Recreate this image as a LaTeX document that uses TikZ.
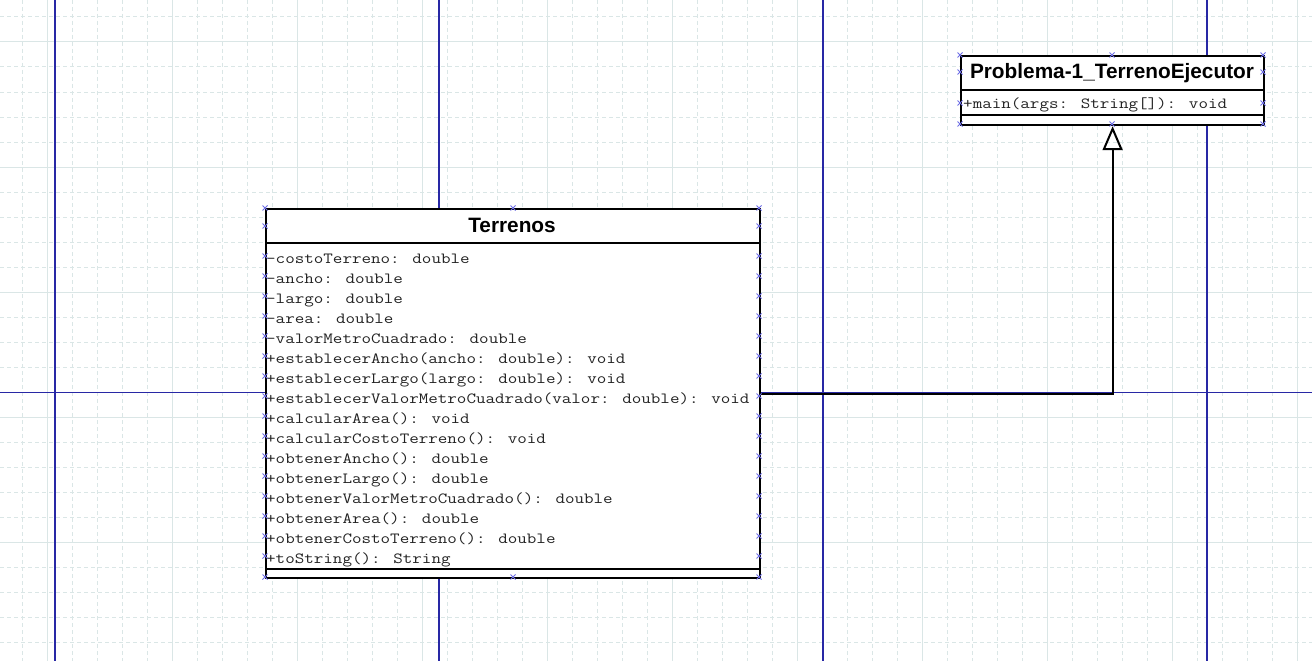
\documentclass[tikz,border=0pt]{standalone}
\usepackage{fontspec}
\setmainfont{Liberation Sans}
\newfontfamily\umlmono{Latin Modern Mono}[FakeStretch=1.195]
\usetikzlibrary{arrows.meta,positioning}
\definecolor{gridcol}{RGB}{218,230,230}
\definecolor{pagecol}{RGB}{40,40,165}
\definecolor{handlecol}{RGB}{110,110,230}
\definecolor{textcol}{RGB}{35,35,35}

\begin{document}
\begin{tikzpicture}[x=1pt,y=-1pt,
    classbox/.style={draw=black,fill=white,line width=2.2pt,inner sep=0pt,anchor=north west},
    classname/.style={font=\fontsize{20.8}{24}\selectfont\bfseries,inner sep=0pt,anchor=base},
    member/.style={font=\umlmono\fontsize{15.5}{20}\selectfont,text=textcol,inner sep=0pt,anchor=base west},
    classline/.style={line width=2.2pt},
    handle/.style={handlecol,line width=0.8pt},
    realize/.style={line width=2.2pt,-{Triangle[open,length=24pt,width=20pt,line width=2pt]}}]
  \useasboundingbox[fill=white] (0,0) rectangle (1312,661);

  % grid
  \foreach \gx in {22,47,...,1297}
    \draw[gridcol,line width=1pt,dash pattern=on 4pt off 3pt] (\gx,0) -- (\gx,661);
  \foreach \gy in {17,42,...,642}
    \draw[gridcol,line width=1pt,dash pattern=on 4pt off 3pt] (0,\gy) -- (1312,\gy);
  \foreach \gx in {47,172,...,1297}
    \draw[gridcol,line width=1pt] (\gx,0) -- (\gx,661);
  \foreach \gy in {42,167,...,542}
    \draw[gridcol,line width=1pt] (0,\gy) -- (1312,\gy);

  % page borders
  \foreach \gx in {55,439,823,1207}
    \draw[pagecol,line width=1.2pt] (\gx,0) -- (\gx,661);
  \draw[pagecol,line width=1.2pt] (0,392.5) -- (1312,392.5);

  % class Terrenos
  \node[classbox,minimum width=494pt,minimum height=369pt] (terrenos) at (265,208) {};
  \node[classname] (terrenosname) at (512,232) {Terrenos};
  \draw[classline] (terrenos.north west) ++(0,35) -- ++(494,0);
  \draw[classline] (terrenos.south west) ++(0,-10) -- ++(494,0);
  \foreach \txt [count=\i from 0] in {
      {-costoTerreno: double},
      {-ancho: double},
      {-largo: double},
      {-area: double},
      {-valorMetroCuadrado: double},
      {+establecerAncho(ancho: double): void},
      {+establecerLargo(largo: double): void},
      {+establecerValorMetroCuadrado(valor: double): void},
      {+calcularArea(): void},
      {+calcularCostoTerreno(): void},
      {+obtenerAncho(): double},
      {+obtenerLargo(): double},
      {+obtenerValorMetroCuadrado(): double},
      {+obtenerArea(): double},
      {+obtenerCostoTerreno(): double},
      {+toString(): String}}
    \node[member] (trow\i) at (266,{263+20*\i}) {\txt};

  % class Problema-1_TerrenoEjecutor
  \node[classbox,minimum width=303pt,minimum height=69pt] (ejecutor) at (960,55) {};
  \node[classname] (ejecutorname) at (1112,78) {Problema-1\_TerrenoEjecutor};
  \draw[classline] (ejecutor.north west) ++(0,35) -- ++(303,0);
  \draw[classline] (ejecutor.north west) ++(0,60) -- ++(303,0);
  \node[member] (erow0) at (963,108) {+main(args: String[]): void};

  % realization
  \draw[realize] (terrenos.east) -| (ejecutor.south);

  % selection handles
  \foreach \hy in {256,276,...,556}
    \foreach \hx in {265,759}
      \draw[handle] (\hx,\hy) +(-2.5,-2.5) -- +(2.5,2.5) +(-2.5,2.5) -- +(2.5,-2.5);
  \foreach \hx/\hy in {265/208,513/208,759/208,265/226,759/226,265/577,513/577,759/577,
      960/55,1112/55,1263/55,960/72,1263/72,960/103,1263/103,960/124,1112/124,1263/124}
    \draw[handle] (\hx,\hy) +(-2.5,-2.5) -- +(2.5,2.5) +(-2.5,2.5) -- +(2.5,-2.5);
\end{tikzpicture}
\end{document}
